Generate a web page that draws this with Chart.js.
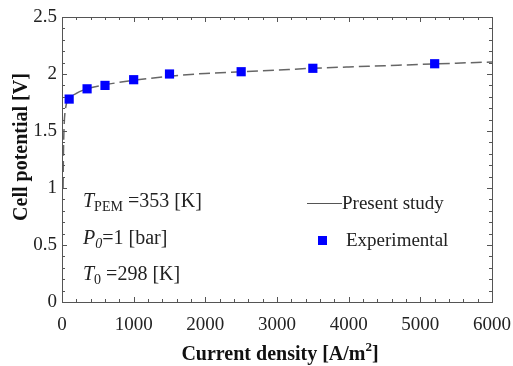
<!DOCTYPE html>
<html>
<head>
<meta charset="utf-8">
<script src="https://cdn.jsdelivr.net/npm/chart.js@4"></script>
<style>
  html, body { margin: 0; padding: 0; background: #fff; }
  #wrap { width: 513px; height: 366px; position: relative; }
</style>
</head>
<body>
<div id="wrap"><canvas id="polChart"></canvas></div>
<script>
// experimental points
const expCurrent = [100, 350, 600, 1000, 1500, 2500, 3500, 5200];
const expVoltage = [1.78, 1.87, 1.90, 1.95, 2.00, 2.02, 2.05, 2.09];

// model curve (present study)
const modelCurrent = [15, 20, 30, 50, 100, 200, 350, 600, 1000, 1500, 2000, 2500, 3000, 3500, 4000, 4500, 5000, 5500, 6000];
const modelVoltage = [1.0, 1.3, 1.55, 1.7, 1.78, 1.83, 1.87, 1.905, 1.945, 1.98, 2.005, 2.02, 2.035, 2.05, 2.062, 2.073, 2.084, 2.095, 2.105];

const serif = "'Liberation Serif', 'Times New Roman', serif";

// frame, inward ticks, titles, legend and notes
const framePlugin = {
    id: 'frame',
    afterDraw(chart) {
        const ctx = chart.ctx;
        const a = chart.chartArea;
        const xs = chart.scales.x, ys = chart.scales.y;
        ctx.save();
        ctx.strokeStyle = '#555';
        ctx.lineWidth = 1;
        ctx.strokeRect(a.left + 0.5, a.top + 0.5, a.right - a.left, a.bottom - a.top);
        ctx.beginPath();
        for (let v = 0; v <= 6000; v += 200) {
            const px = Math.round(xs.getPixelForValue(v)) + 0.5;
            const len = v % 1000 === 0 ? 5 : 3;
            ctx.moveTo(px, a.bottom); ctx.lineTo(px, a.bottom - len);
            ctx.moveTo(px, a.top); ctx.lineTo(px, a.top + len);
        }
        for (let i = 0; i <= 25; i++) {
            const v = i / 10;
            const py = Math.round(ys.getPixelForValue(v)) + 0.5;
            const len = i % 5 === 0 ? 5 : 3;
            ctx.moveTo(a.left, py); ctx.lineTo(a.left + len, py);
            ctx.moveTo(a.right, py); ctx.lineTo(a.right - len, py);
        }
        ctx.stroke();

        // axis titles
        ctx.fillStyle = '#111';
        ctx.textBaseline = 'alphabetic';
        ctx.font = 'bold 20px ' + serif;
        const t1 = 'Current density [A/m', t2 = '2', t3 = ']';
        const w1 = ctx.measureText(t1).width, w3 = ctx.measureText(t3).width;
        ctx.font = 'bold 13px ' + serif;
        const w2 = ctx.measureText(t2).width;
        let tx = 280 - (w1 + w2 + w3) / 2;
        ctx.font = 'bold 20px ' + serif;
        ctx.fillText(t1, tx, 360);
        ctx.font = 'bold 13px ' + serif;
        ctx.fillText(t2, tx + w1, 351);
        ctx.font = 'bold 20px ' + serif;
        ctx.fillText(t3, tx + w1 + w2, 360);

        ctx.save();
        ctx.translate(27, 147);
        ctx.rotate(-Math.PI / 2);
        ctx.textAlign = 'center';
        ctx.font = 'bold 20px ' + serif;
        ctx.fillText('Cell potential [V]', 0, 0);
        ctx.restore();

        // legend
        ctx.fillStyle = '#222';
        ctx.font = '19px ' + serif;
        ctx.strokeStyle = '#555';
        ctx.beginPath();
        ctx.moveTo(307, 203.5); ctx.lineTo(342, 203.5);
        ctx.stroke();
        ctx.fillText('Present study', 342, 209);
        ctx.fillStyle = '#0000ff';
        ctx.fillRect(318, 236, 9, 9);
        ctx.fillStyle = '#222';
        ctx.fillText('Experimental', 346, 246);

        // operating conditions
        const note = (x, y, main, sub, rest, italicSub) => {
            ctx.font = 'italic 20px ' + serif;
            ctx.fillText(main, x, y);
            let w = ctx.measureText(main).width;
            ctx.font = (italicSub ? 'italic ' : '') + '14px ' + serif;
            ctx.fillText(sub, x + w, y + 4);
            w += ctx.measureText(sub).width;
            ctx.font = '20px ' + serif;
            ctx.fillText(rest, x + w, y);
        };
        note(83, 207, 'T', 'PEM', ' =353 [K]', false);
        note(83, 244, 'P', '0', '=1 [bar]', true);
        note(83, 280, 'T', '0', ' =298 [K]', false);
        ctx.restore();
    }
};

const ctx = document.getElementById('polChart').getContext('2d');
window.myChart = new Chart(ctx, {
    type: 'scatter',
    data: {
        datasets: [{
            label: 'Present study',
            data: modelCurrent.map((c, i) => ({ x: c, y: modelVoltage[i] })),
            showLine: true,
            borderColor: '#666',
            borderWidth: 1.5,
            borderDash: [11, 5],
            pointRadius: 0,
            cubicInterpolationMode: 'monotone',
            order: 2
        }, {
            label: 'Experimental',
            data: expCurrent.map((c, i) => ({ x: c, y: expVoltage[i] })),
            pointStyle: 'rect',
            pointRadius: 6.5,
            backgroundColor: '#0000ff',
            borderColor: '#0000ff',
            borderWidth: 0,
            order: 1
        }]
    },
    options: {
        responsive: true,
        maintainAspectRatio: false,
        animation: false,
        layout: { padding: { top: 17, right: 21, left: 0, bottom: 0 } },
        plugins: { legend: { display: false }, tooltip: { enabled: false } },
        scales: {
            x: {
                type: 'linear',
                min: 0, max: 6000,
                grid: { display: false, drawTicks: false, tickLength: 0 },
                border: { display: false },
                ticks: { stepSize: 1000, color: '#222', font: { family: serif, size: 19 }, padding: 12, maxRotation: 0,
                    callback: v => String(v) },
                afterFit(scale) { scale.height = 64; scale.paddingRight = 0; scale.paddingLeft = 0; }
            },
            y: {
                min: 0, max: 2.5,
                grid: { display: false, drawTicks: false, tickLength: 0 },
                border: { display: false },
                ticks: { stepSize: 0.5, color: '#222', font: { family: serif, size: 19 }, padding: 5,
                    callback: v => String(v) },
                afterFit(scale) { scale.width = 62; scale.paddingTop = 0; scale.paddingBottom = 0; }
            }
        }
    },
    plugins: [framePlugin]
});
</script>
</body>
</html>
